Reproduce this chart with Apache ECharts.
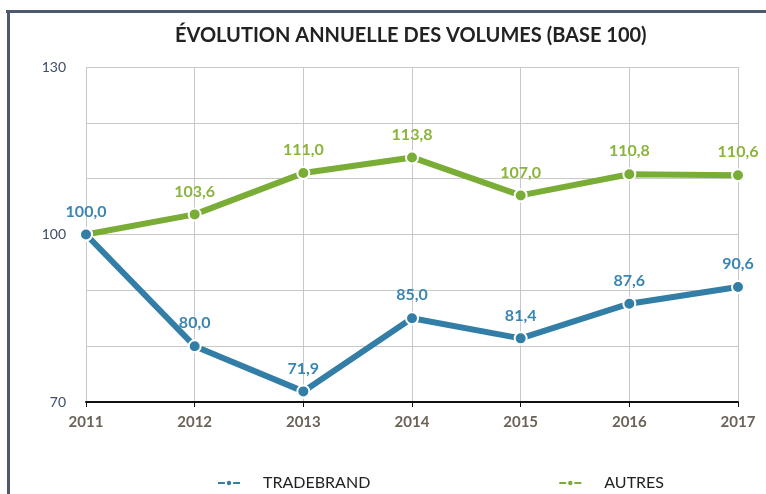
<!DOCTYPE html>
<html>
<head>
<meta charset="utf-8">
<script src="https://cdn.jsdelivr.net/npm/echarts@6/dist/echarts.min.js"></script>
<style>
  html, body { margin: 0; padding: 0; background: #fff; }
  #chart { width: 766px; height: 494px; }
</style>
</head>
<body>
<div id="chart"></div>
<script>
const years = ['2011', '2012', '2013', '2014', '2015', '2016', '2017'];
const tradebrand = [100.0, 80.0, 71.9, 85.0, 81.4, 87.6, 90.6];
const autres = [100.0, 103.6, 111.0, 113.8, 107.0, 110.8, 110.6];
const yLabels = [70, 100, 130];

const chart = echarts.init(document.getElementById('chart'));

const fmt = v => v.toFixed(1).replace('.', ',');

const option = {
  animation: false,
  textStyle: { fontFamily: 'Lato' },
  title: {
    text: 'ÉVOLUTION ANNUELLE DES VOLUMES (BASE 100)',
    left: 170,
    top: 21,
    textStyle: { fontSize: 20, fontWeight: 'bold', color: '#222', fontFamily: 'Lato' }
  },
  graphic: [
    { type: 'rect', shape: { x: 6, y: 10, width: 770, height: 3 }, style: { fill: '#4b5a6d' } },
    { type: 'rect', shape: { x: 7, y: 10, width: 3, height: 490 }, style: { fill: '#4b5a6d' } }
  ],
  legend: {
    left: 212,
    top: 470,
    itemGap: 188,
    itemWidth: 22,
    itemHeight: 8,
    textStyle: { fontSize: 16, color: '#222', padding: [0, 0, 0, 18] },
    data: ['TRADEBRAND', 'AUTRES']
  },
  grid: { left: 86, right: 28, top: 67, bottom: 92 },
  xAxis: {
    type: 'category',
    data: years,
    boundaryGap: false,
    axisLine: { lineStyle: { color: '#111', width: 2 } },
    axisTick: { show: true, alignWithLabel: true, length: 5, lineStyle: { color: '#111' } },
    axisLabel: { color: '#6b6258', fontSize: 15, fontWeight: 'bold', margin: 13 },
    splitLine: { show: true, lineStyle: { color: '#c8c8c8', width: 1 } }
  },
  yAxis: {
    type: 'value',
    min: 70,
    max: 130,
    interval: 10,
    axisLine: { show: false },
    axisTick: { show: false },
    axisLabel: {
      color: '#3d4e6a',
      fontSize: 14,
      margin: 20,
      formatter: v => (yLabels.includes(v) ? String(v) : '')
    },
    splitLine: { lineStyle: { color: '#c8c8c8', width: 1 } }
  },
  series: [
    {
      name: 'TRADEBRAND',
      type: 'line',
      z: 4,
      data: tradebrand,
      symbol: 'circle',
      symbolSize: 12,
      lineStyle: { color: '#337ea6', width: 6 },
      itemStyle: { color: '#337ea6', borderColor: '#fff', borderWidth: 2 },
      label: {
        show: true,
        position: 'top',
        distance: 8,
        color: '#3a86b2',
        fontSize: 16,
        fontWeight: 'bold',
        formatter: p => fmt(p.value)
      }
    },
    {
      name: 'AUTRES',
      type: 'line',
      z: 3,
      data: autres.map((v, i) => (i === 0 ? { value: v, label: { show: false } } : v)),
      symbol: 'circle',
      symbolSize: 12,
      lineStyle: { color: '#7aad35', width: 6 },
      itemStyle: { color: '#7aad35', borderColor: '#fff', borderWidth: 2 },
      label: {
        show: true,
        position: 'top',
        distance: 8,
        color: '#8ab43a',
        fontSize: 16,
        fontWeight: 'bold',
        formatter: p => fmt(p.value)
      }
    }
  ]
};

chart.setOption(option);
</script>
</body>
</html>
